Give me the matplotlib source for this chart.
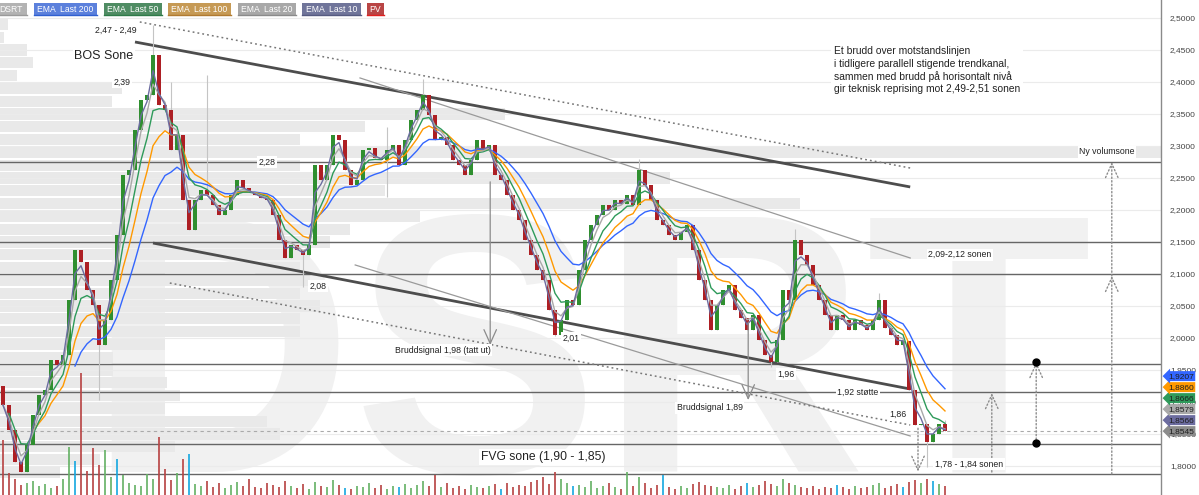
import numpy as np
import pandas as pd
import matplotlib
matplotlib.use("Agg")
import matplotlib.pyplot as plt
from matplotlib.patches import Rectangle
from matplotlib.lines import Line2D
from matplotlib.transforms import blended_transform_factory

plt.rcParams["font.family"] = ["Liberation Sans", "DejaVu Sans"]

# ---------------- price bars ----------------
first_open = 1.925
closes = [
    1.895, 1.856, 1.806, 1.791, 1.833, 1.880, 1.911, 1.919, 1.966, 1.958,
    1.973, 2.059, 2.137, 2.119, 2.075, 2.051, 1.989, 2.028, 2.091, 2.161,
    2.255, 2.262, 2.325, 2.372, 2.380, 2.442, 2.364, 2.356, 2.294, 2.317,
    2.216, 2.169, 2.216, 2.231, 2.223, 2.208, 2.192, 2.200, 2.223, 2.247,
    2.234, 2.228, 2.223, 2.218, 2.216, 2.192, 2.153, 2.125, 2.145, 2.137,
    2.130, 2.145, 2.270, 2.247, 2.270, 2.317, 2.309, 2.262, 2.239, 2.247,
    2.294, 2.297, 2.281, 2.278, 2.294, 2.301, 2.270, 2.309, 2.341, 2.356,
    2.380, 2.348, 2.309, 2.314, 2.301, 2.278, 2.270, 2.255, 2.278, 2.309,
    2.294, 2.301, 2.255, 2.247, 2.223, 2.200, 2.184, 2.153, 2.130, 2.106,
    2.091, 2.044, 2.005, 2.028, 2.059, 2.052, 2.106, 2.153, 2.176, 2.192,
    2.208, 2.200, 2.216, 2.210, 2.223, 2.208, 2.262, 2.239, 2.216, 2.184,
    2.176, 2.161, 2.153, 2.166, 2.176, 2.137, 2.091, 2.059, 2.012, 2.051,
    2.075, 2.083, 2.044, 2.031, 2.012, 2.036, 1.997, 1.973, 1.962, 1.997,
    2.075, 2.059, 2.153, 2.130, 2.114, 2.083, 2.059, 2.036, 2.012, 2.036,
    2.028, 2.012, 2.028, 2.020, 2.012, 2.028, 2.059, 2.016, 2.005, 1.989,
    1.995, 1.919, 1.864, 1.866, 1.838, 1.850, 1.866, 1.8545,
]
# bars whose wicks reach beyond the body
wick_highs = {25: 2.489, 28: 2.400, 34: 2.411, 64: 2.330, 70: 2.405,
              106: 2.280, 132: 2.170, 146: 2.070, 157: 1.872}
wick_lows = {16: 1.903, 50: 2.080, 64: 2.220, 92: 2.003, 128: 1.955, 154: 1.798}

volumes = [
    55, 22, 16, 10, 12, 14, 9, 11, 7, 9,
    16, 48, 34, 122, 24, 47, 30, 45, 18, 36,
    20, 12, 10, 9, 21, 16, 58, 26, 15, 22,
    36, 41, 11, 9, 14, 8, 12, 7, 10, 13,
    9, 16, 8, 7, 12, 10, 8, 14, 9, 7,
    11, 6, 13, 9, 8, 15, 10, 7, 6, 9,
    8, 12, 7, 10, 6, 9, 8, 11, 7, 10,
    14, 9, 20, 8, 12, 7, 9, 6, 10, 8,
    7, 9, 11, 6, 12, 8, 10, 9, 13, 15,
    18, 11, 23, 16, 12, 9, 10, 8, 14, 7,
    9, 12, 8, 6, 23, 9, 18, 12, 7, 10,
    20, 8, 6, 9, 7, 11, 13, 10, 9, 8,
    7, 10, 6, 9, 12, 8, 10, 14, 11, 9,
    16, 12, 10, 8, 7, 9, 6, 8, 7, 10,
    8, 6, 9, 7, 8, 10, 12, 7, 9, 11,
    8, 13, 15, 12, 16, 14, 11, 9,
]
volume_pv_bars = [12, 19, 31, 57, 66, 83, 95, 110, 124, 139, 150, 155]

# volume-at-price profile, buckets of 0.02 counted down from 2.50
profile_top = 2.50
profile_step = 0.02
profile_volume = [
    8, 4, 27, 33, 17, 122, 112, 505, 365, 300,
    1200, 300, 670, 385, 800, 420, 350, 330, 310, 300,
    310, 300, 320, 300, 300, 165, 113, 113, 167, 180,
    165, 267, 280, 175, 100, 60,
]

# moving averages: legend label and smoothing span (in drawn bars)
ema_labels = ["EMA  Last 200", "EMA  Last 100", "EMA  Last 50", "EMA  Last 20", "EMA  Last 10"]
ema_spans = [14, 8, 5, 3, 2]
ema_first_bar = [12, 5, 1, 0, 0]
legend_labels = ["DSRT", "EMA  Last 200", "EMA  Last 50", "EMA  Last 100",
                 "EMA  Last 20", "EMA  Last 10", "PV"]

# horizontal support / resistance levels
levels = [2.275, 2.15, 2.10, 1.96, 1.915, 1.835, 1.7875]

# drawn trend lines: (bar, price) -> (bar, price)
trend_thick = [((22.0, 2.4625), (151.2, 2.236)), ((25.0, 2.1484), (151.2, 1.9203))]
trend_thin = [((59.5, 2.4063), (151.2, 2.125)), ((58.7, 2.1141), (151.2, 1.8469))]
trend_dotted = [((22.8, 2.4938), (151.2, 2.2656)), ((27.8, 2.0859), (151.2, 1.8641))]

# signal arrows: (bar, price from, price to)
signal_solid = [(81.2, 2.244, 1.989), (124.2, 2.025, 1.903)]
signal_dotted = [(152.5, 1.859, 1.791), (164.8, 1.7906, 1.914), (172.2, 1.836, 1.9625),
                 (184.8, 1.7875, 2.097), (184.8, 2.097, 2.275)]
target_dots = [(172.2, 1.9625), (172.2, 1.836)]

# ---------------- figure ----------------
W, H = 1199, 495
AX_W = 1161
fig = plt.figure(figsize=(W / 100, H / 100), dpi=100)
rect = [0, 0, AX_W / W, 1]
ymin, ymax = 1.7547, 2.5281
xmin, xmax = -0.5, 193.0

ax_bg = fig.add_axes(rect, zorder=0)
ax = fig.add_axes(rect, zorder=1)
ax_vol = fig.add_axes(rect, zorder=2)
ax.patch.set_alpha(0)
ax_vol.patch.set_alpha(0)

# background: watermark + volume profile
ax_bg.set_xlim(0, AX_W)
ax_bg.set_ylim(ymin, ymax)
ax_bg.axis("off")
ax_bg.text(86 / AX_W, 23 / H, "DSRT", transform=ax_bg.transAxes, fontsize=266,
           fontweight="bold", family="Liberation Sans", color="#f1f1f1",
           ha="left", va="baseline", zorder=0)
centers = [profile_top - profile_step * (j + 0.5) for j in range(len(profile_volume))]
ax_bg.barh(centers, profile_volume, height=profile_step * 0.88, left=0,
           color="#e9e9e9", zorder=1)

# main price axes
ax.set_xlim(xmin, xmax)
ax.set_ylim(ymin, ymax)
ticks = np.round(np.arange(1.80, 2.5001, 0.05), 2)
ax.set_yticks(ticks)
ax.set_yticklabels([f"{t:.4f}".replace(".", ",") for t in ticks])
ax.yaxis.tick_right()
ax.tick_params(axis="y", length=0, pad=6.5, labelsize=6, labelcolor="#444444")
ax.set_xticks([])
for side in ("left", "top", "bottom"):
    ax.spines[side].set_visible(False)
ax.spines["right"].set_color("#8a8a8a")
ax.spines["right"].set_linewidth(1.0)
for t in ticks:
    ax.axhline(t, color="#ebebeb", lw=0.8, zorder=0.5)

# levels and current price
for lv in levels:
    ax.axhline(lv, color="#666666", lw=1.0, zorder=1)
ax.axhline(closes[-1], color="#aaaaaa", lw=0.8, ls=(0, (3, 3)), zorder=1)

# trend lines
for (x0, y0), (x1, y1) in trend_thick:
    ax.plot([x0, x1], [y0, y1], color="#4d4d4d", lw=2.0, zorder=2, solid_capstyle="butt")
for (x0, y0), (x1, y1) in trend_thin:
    ax.plot([x0, x1], [y0, y1], color="#9a9a9a", lw=0.9, zorder=2)
for (x0, y0), (x1, y1) in trend_dotted:
    ax.plot([x0, x1], [y0, y1], color="#777777", lw=1.1, ls=(0, (1.2, 2)), zorder=2)

# candles
n = len(closes)
idx = np.arange(n)
opens = [first_open] + closes[:-1]
highs = [max(o, c) for o, c in zip(opens, closes)]
lows = [min(o, c) for o, c in zip(opens, closes)]
for k, v in wick_highs.items():
    highs[k] = max(highs[k], v)
for k, v in wick_lows.items():
    lows[k] = min(lows[k], v)
up = np.array(closes) >= np.array(opens)
ax.vlines(idx, lows, highs, color="#c4c4c4", lw=0.8, zorder=3)
body_lo = np.minimum(opens, closes)
body_h = np.maximum(np.abs(np.array(closes) - np.array(opens)), 0.002)
ax.bar(idx, body_h, bottom=body_lo, width=0.62,
       color=np.where(up, "#2f8f2f", "#ad1f24"), zorder=4, linewidth=0)

# moving averages
ema_colors = ["#3366ff", "#ff9900", "#2e9a5a", "#a9a9a9", "#6c6ca0"]
ema_last = []
s = pd.Series(closes)
for span, first, col in zip(ema_spans, ema_first_bar, ema_colors):
    e = s.ewm(span=span, adjust=False).mean()
    ax.plot(idx[first:], e.values[first:], color=col, lw=1.0, zorder=5)
    ema_last.append(float(e.values[-1]))

# signal arrows
for x, p0, p1 in signal_solid:
    ax.annotate("", xy=(x, p1), xytext=(x, p0),
                arrowprops=dict(arrowstyle="->,head_length=1.0,head_width=0.45",
                                color="#8c8c8c", lw=0.9, shrinkA=0, shrinkB=0), zorder=6)
for x, p0, p1 in signal_dotted:
    ax.annotate("", xy=(x, p1), xytext=(x, p0),
                arrowprops=dict(arrowstyle="->,head_length=1.0,head_width=0.45",
                                color="#8c8c8c", lw=1.0, ls=(0, (1, 1.6)),
                                shrinkA=0, shrinkB=0), zorder=6)
ax.plot([p[0] for p in target_dots], [p[1] for p in target_dots], "o",
        color="black", ms=5, zorder=7)

# annotations
white = dict(facecolor="white", edgecolor="none", pad=1.2)
small = 6.3
notes = [
    ("2,47 - 2,49", 22.3, 2.481, small, "right"),
    ("BOS Sone", 16.8, 2.440, 9.0, "center"),
    ("2,39", 19.8, 2.400, small, "center"),
    ("2,28", 44.0, 2.275, small, "center"),
    ("2,08", 52.5, 2.081, small, "center"),
    ("2,01", 94.7, 2.000, small, "center"),
    ("Bruddsignal 1,98 (tatt ut)", 73.3, 1.981, small, "center"),
    ("1,96", 130.5, 1.944, small, "center"),
    ("1,92 støtte", 142.5, 1.915, small, "center"),
    ("Bruddsignal 1,89", 117.8, 1.891, small, "center"),
    ("1,86", 149.2, 1.880, small, "center"),
    ("1,78 - 1,84 sonen", 161.0, 1.803, small, "center"),
    ("FVG sone (1,90 - 1,85)", 90.0, 1.814, 8.7, "center"),
    ("2,09-2,12 sonen", 159.5, 2.130, small, "center"),
    ("Ny volumsone", 184.0, 2.291, small, "center"),
]
for txt, x, y, fs, ha in notes:
    ax.text(x, y, txt, fontsize=fs, ha=ha, va="center", color="#222222",
            bbox=white, zorder=8)
ax.text(138.5, 2.456,
        "Et brudd over motstandslinjen\ni tidligere parallell stigende trendkanal,\n"
        "sammen med brudd på horisontalt nivå\ngir teknisk reprising mot 2,49-2,51 sonen",
        fontsize=7.4, ha="left", va="top", linespacing=1.3, color="#222222",
        bbox=dict(facecolor="white", edgecolor="none", pad=2), zorder=8)

# value tags on the price scale
tag_values = ema_last + [closes[-1]]
tag_colors = ema_colors + ["#8c8c8c"]
order = np.argsort(tag_values)
gap = 11 / 640
placed = []
for i in order:
    y = tag_values[i]
    if placed and y < placed[-1] + gap:
        y = placed[-1] + gap
    placed.append(y)
    ax.text(1 + 7 / AX_W, y, f"{tag_values[i]:.4f}".replace(".", ","),
            transform=blended_transform_factory(ax.transAxes, ax.transData),
            fontsize=6, ha="left", va="center", color="#1e1e1e", clip_on=False,
            bbox=dict(boxstyle="larrow,pad=0.18", facecolor=tag_colors[i],
                      edgecolor="none"), zorder=10)

# volume bars
ax_vol.set_xlim(xmin, xmax)
ax_vol.set_ylim(0, H)
ax_vol.axis("off")
vcol = np.where(up, "#66b266", "#b84444").astype(object)
for k in volume_pv_bars:
    vcol[k] = "#18a8e0"
ax_vol.bar(idx, volumes, width=0.38, color=list(vcol), alpha=0.85, linewidth=0)

# legend strip
legend_fill = ["#b3b3b3", "#5b80dc", "#4f8c63", "#c69a55", "#a8a8a8", "#70759a", "#b94545"]
legend_edge = ["#9a9a9a", "#2f5fd0", "#2e7a48", "#b07a30", "#8a8a8a", "#555a80", "#e02020"]
legend_span = [(-6, 27), (34, 97), (104, 162), (168, 231), (238, 296), (302, 361), (367, 384)]
for lab, fc, ec, (x0, x1) in zip(legend_labels, legend_fill, legend_edge, legend_span):
    fig.patches.append(Rectangle((x0 / W, 1 - 15 / H), (x1 - x0) / W, 12 / H,
                                 transform=fig.transFigure, facecolor=fc,
                                 edgecolor="none", zorder=20))
    fig.lines.append(Line2D([x0 / W, x1 / W], [1 - 15 / H, 1 - 15 / H],
                            transform=fig.transFigure, color=ec, lw=1.0, zorder=21))
    fig.text((x0 + x1) / 2 / W, 1 - 9 / H, lab, color="white", fontsize=6.2,
             ha="center", va="center", zorder=22)

fig.savefig("out.png", dpi=100)
